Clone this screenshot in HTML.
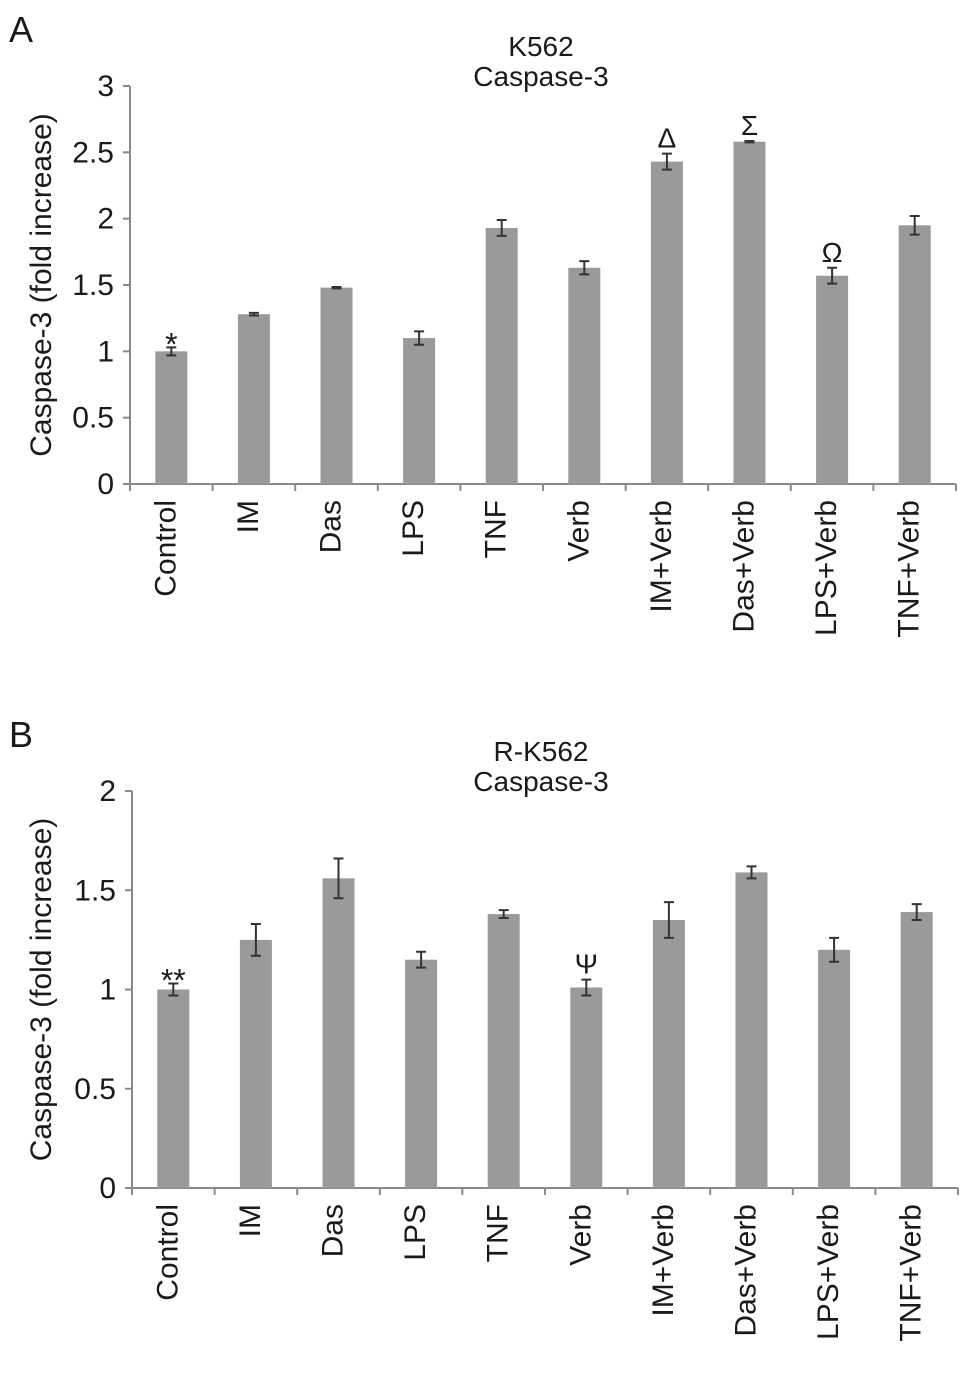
<!DOCTYPE html>
<html><head><meta charset="utf-8"><style>
body{margin:0;background:#fff;}
svg text{font-family:"Liberation Sans",sans-serif;fill:#1a1a1a;}
</style></head><body>
<svg id="chart" width="969" height="1371" viewBox="0 0 969 1371" xmlns="http://www.w3.org/2000/svg"></svg>
<script>
const categories = ["Control","IM","Das","LPS","TNF","Verb","IM+Verb","Das+Verb","LPS+Verb","TNF+Verb"];
const valuesA = [1.00,1.28,1.48,1.10,1.93,1.63,2.43,2.58,1.57,1.95];
const errorsA = [0.03,0.01,0.005,0.05,0.06,0.05,0.06,0.005,0.06,0.07];
const marksA = ["*","","","","","","Δ","Σ","Ω",""];
const ticksA = [0,0.5,1,1.5,2,2.5,3];
const tickLabelsA = ["0","0.5","1","1.5","2","2.5","3"];
const valuesB = [1.00,1.25,1.56,1.15,1.38,1.01,1.35,1.59,1.20,1.39];
const errorsB = [0.03,0.08,0.10,0.04,0.02,0.04,0.09,0.03,0.06,0.04];
const marksB = ["**","","","","","Ψ","","","",""];
const ticksB = [0,0.5,1,1.5,2];
const tickLabelsB = ["0","0.5","1","1.5","2"];

const svg = document.getElementById('chart');
const NS = "http://www.w3.org/2000/svg";
function mk(tag, attrs, text){
  const e = document.createElementNS(NS, tag);
  for (const k in attrs) e.setAttribute(k, attrs[k]);
  if (text !== undefined) e.textContent = text;
  svg.appendChild(e);
  return e;
}

function panel(cfg){
  const {letter, title, x0, x1, y0, yTop, maxV, values, errors, marks, ticks, tickLabels, key} = cfg;
  const n = categories.length;
  const cw = (x1 - x0) / n;
  const yS = v => y0 - (y0 - yTop) * v / maxV;
  const xC = i => x0 + cw * (i + 0.5);
  let e;
  e = mk('text',{x:9,y:yTop-44,'font-size':36}, letter);
  
  
  e = mk('text',{x:541,y:yTop-30,'font-size':28,'text-anchor':'middle'}, title);
  
  
  e = mk('text',{x:541,y:yTop,'font-size':28,'text-anchor':'middle'}, 'Caspase-3');
  
  
  const yc = (y0 + yTop)/2;
  e = mk('text',{x:0,y:0,'font-size':30,'text-anchor':'middle',transform:`translate(51,${yc}) rotate(-90)`}, 'Caspase-3 (fold increase)');
  
  
  e = mk('line',{x1:x0,y1:yTop,x2:x0,y2:y0,stroke:'#8a8a8a','stroke-width':2});
  
  
  e = mk('line',{x1:x0,y1:y0,x2:x1,y2:y0,stroke:'#8a8a8a','stroke-width':2});
  
  
  ticks.forEach((t,i)=>{
    const y = yS(t);
    let l = mk('line',{x1:x0-7,y1:y,x2:x0,y2:y,stroke:'#8a8a8a','stroke-width':2});
    
    
    let tx = mk('text',{x:x0-16,y:y+10,'font-size':30,'text-anchor':'end'}, tickLabels[i]);
    
    
  });
  for (let i=0;i<=n;i++){
    const x = x0 + cw*i;
    let l = mk('line',{x1:x,y1:y0,x2:x,y2:y0+7,stroke:'#8a8a8a','stroke-width':2});
    
    
  }
  categories.forEach((c,i)=>{
    const cx = xC(i);
    const bw = 32;
    const top = yS(values[i]);
    let r = mk('rect',{x:cx-bw/2,y:top,width:bw,height:y0-top,fill:'#9a9a9a'});
    
    
    const eh = yS(values[i]+errors[i]), el = yS(values[i]-errors[i]);
    let g = mk('path',{d:`M${cx},${eh}V${el}M${cx-5},${eh}H${cx+5}M${cx-5},${el}H${cx+5}`,stroke:'#333','stroke-width':2,fill:'none'});
    
    
    if (marks[i]){
      const sym = marks[i].indexOf('*')>=0;
      let m = mk('text',{x:cx,y:eh-(sym?-8:6),'font-size':sym?32:28,'text-anchor':'middle','font-family':'"DejaVu Serif","Liberation Serif",serif'}, marks[i]);
      
      
    }
    let t = mk('text',{x:0,y:0,'font-size':30,'text-anchor':'end',transform:`translate(${cx+4},${y0+16}) rotate(-90)`}, c);
    
    
  });
}
panel({letter:'A',title:'K562',x0:130,x1:956,y0:484,yTop:86,maxV:3,values:valuesA,errors:errorsA,marks:marksA,ticks:ticksA,tickLabels:tickLabelsA,key:'panel-a'});
panel({letter:'B',title:'R-K562',x0:132,x1:958,y0:1188,yTop:791,maxV:2,values:valuesB,errors:errorsB,marks:marksB,ticks:ticksB,tickLabels:tickLabelsB,key:'panel-b'});
</script>
</body></html>
